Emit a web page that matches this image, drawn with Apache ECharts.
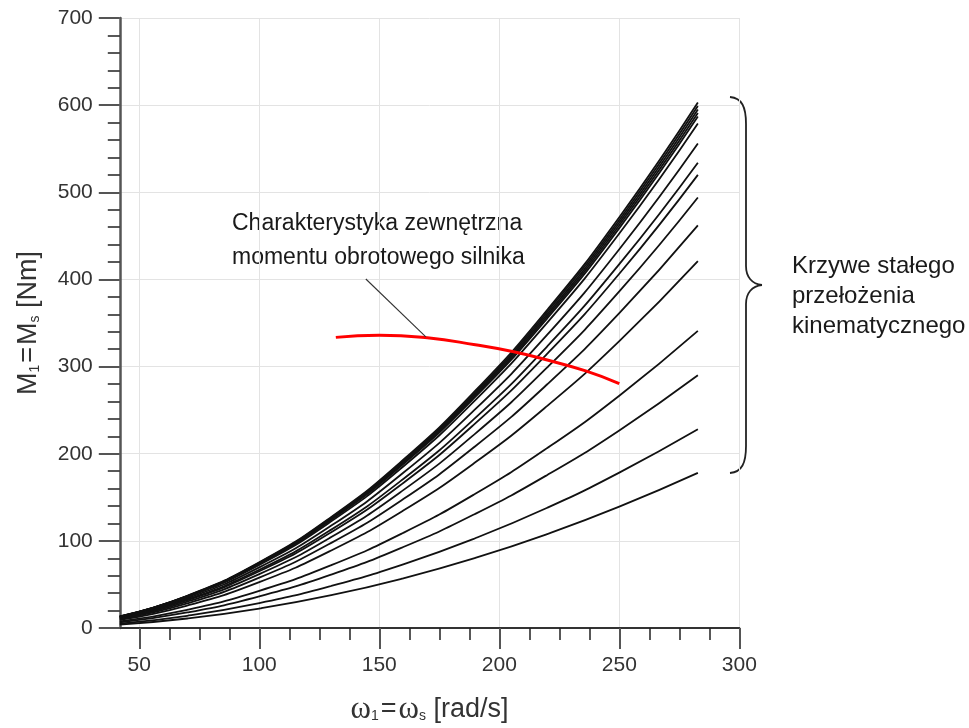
<!DOCTYPE html>
<html>
<head>
<meta charset="utf-8">
<script src="https://cdn.jsdelivr.net/npm/echarts@6/dist/echarts.min.js"></script>
<style>
  html, body { margin: 0; padding: 0; background: #fff; }
  #chart { width: 969px; height: 728px; }
</style>
</head>
<body>
<div id="chart"></div>
<script>
// omega points where the curves were read [rad/s]
var omega = [41.89, 70, 100, 130, 160, 190, 220, 250, 282.74];

// torque of each constant-ratio curve [Nm], top to bottom
var ratio1 = [13.2, 37.0, 75.4, 127.5, 193.1, 272.3, 365.1, 471.4, 603];
var ratio2 = [13.2, 36.7, 74.9, 126.6, 191.8, 270.5, 362.7, 468.3, 599];
var ratio3 = [13.1, 36.5, 74.4, 125.8, 190.5, 268.7, 360.2, 465.2, 595];
var ratio4 = [13.0, 36.2, 73.9, 124.9, 189.3, 266.9, 357.8, 462.1, 591];
var ratio5 = [12.9, 36.0, 73.4, 124.1, 188.0, 265.1, 355.4, 458.9, 587];
var ratio6 = [12.7, 35.5, 72.4, 122.4, 185.4, 261.5, 350.5, 452.7, 579];
var ratio7 = [12.2, 34.1, 69.6, 117.5, 178.1, 251.1, 336.6, 434.7, 556];
var ratio8 = [11.7, 32.7, 66.8, 112.9, 171.0, 241.1, 323.3, 417.5, 534];
var ratio9 = [11.4, 31.9, 65.1, 109.9, 166.5, 234.8, 314.8, 406.5, 520];
var ratio10 = [10.8, 30.3, 61.8, 104.4, 158.2, 223.1, 299.1, 386.2, 494];
var ratio11 = [10.1, 28.3, 57.8, 97.7, 147.9, 208.6, 279.7, 361.2, 462];
var ratio12 = [9.2, 25.8, 52.7, 89.0, 134.8, 190.1, 254.9, 329.1, 421];
var ratio13 = [7.5, 20.9, 42.7, 72.1, 109.2, 154.0, 206.5, 266.6, 341];
var ratio14 = [6.4, 17.8, 36.3, 61.3, 92.9, 131.0, 175.6, 226.7, 290];
var ratio15 = [5.0, 14.0, 28.5, 48.2, 73.0, 103.0, 138.0, 178.3, 228];
var ratio16 = [3.9, 10.9, 22.3, 37.6, 57.0, 80.4, 107.8, 139.2, 178];
var ratioCurves = [ratio1, ratio2, ratio3, ratio4, ratio5, ratio6, ratio7, ratio8,
  ratio9, ratio10, ratio11, ratio12, ratio13, ratio14, ratio15, ratio16];

// external engine torque characteristic (red)
var engineOmega = [131.9, 150, 170, 190, 206, 220, 236, 250];
var engineTorque = [333.5, 336, 333, 325, 317, 307.5, 295, 280.5];

// leader line from the annotation to the red curve
var leaderOmega = [144.4, 169.4];
var leaderTorque = [400.5, 334];

// tick values
var xMajorTicks = [50, 100, 150, 200, 250, 300];
var xMinorTicks = [62.5, 75, 87.5, 112.5, 125, 137.5, 162.5, 175, 187.5,
  212.5, 225, 237.5, 262.5, 275, 287.5];

var font = 'Liberation Sans, Arial, sans-serif';
var chart = echarts.init(document.getElementById('chart'));

function pairs(xs, ys) {
  return xs.map(function (x, i) { return [x, ys[i]]; });
}

var series = ratioCurves.map(function (c, i) {
  return {
    name: 'i' + (i + 1),
    type: 'line',
    data: pairs(omega, c),
    smooth: true,
    showSymbol: false,
    silent: true,
    lineStyle: { color: '#111', width: 1.8 },
    z: 3
  };
});

series.push({
  name: 'silnik',
  type: 'line',
  data: pairs(engineOmega, engineTorque),
  smooth: true,
  showSymbol: false,
  silent: true,
  lineStyle: { color: '#ff0000', width: 3 },
  z: 4
});

series.push({
  name: 'leader',
  type: 'line',
  data: pairs(leaderOmega, leaderTorque),
  showSymbol: false,
  silent: true,
  lineStyle: { color: '#333', width: 1.1 },
  z: 5
});

var subRich = {
  n: { fontSize: 27, fontFamily: font, color: '#333' },
  q: { fontSize: 27, fontFamily: font, color: '#333', padding: [0, 2, 0, 2] },
  w: { fontSize: 31, fontFamily: 'Liberation Serif, serif', color: '#333' },
  s: { fontSize: 14, fontFamily: font, color: '#333', padding: [13, 0, 0, 0] }
};

// curly brace pieces (pixel space, right of the plot)
var braceStyle = { fill: 'none', stroke: '#222', lineWidth: 1.8 };
var brace = [
  { type: 'bezierCurve', shape: { x1: 730, y1: 97, cpx1: 742, cpy1: 98, cpx2: 746, cpy2: 107, x2: 746, y2: 124 } },
  { type: 'line', shape: { x1: 746, y1: 124, x2: 746, y2: 266 } },
  { type: 'bezierCurve', shape: { x1: 746, y1: 266, cpx1: 746, cpy1: 277, cpx2: 752, cpy2: 284, x2: 762, y2: 285 } },
  { type: 'bezierCurve', shape: { x1: 762, y1: 285, cpx1: 752, cpy1: 286, cpx2: 746, cpy2: 293, x2: 746, y2: 304 } },
  { type: 'line', shape: { x1: 746, y1: 304, x2: 746, y2: 446 } },
  { type: 'bezierCurve', shape: { x1: 746, y1: 446, cpx1: 746, cpy1: 463, cpx2: 742, cpy2: 472, x2: 730, y2: 473 } }
].map(function (g) { g.style = braceStyle; return g; });

chart.setOption({
  animation: false,
  backgroundColor: '#fff',
  grid: { left: 119.8, right: 229.7, top: 18, bottom: 100, containLabel: false, outerBoundsMode: 'none' },
  xAxis: [{
    type: 'value',
    min: 41.89,
    max: 300,
    minInterval: 50,
    maxInterval: 50,
    axisLine: { show: true, onZero: false, lineStyle: { color: '#333', width: 2 } },
    axisTick: { show: true, length: 21, customValues: xMajorTicks, lineStyle: { color: '#555', width: 2 } },
    axisLabel: { customValues: xMajorTicks, margin: 27, fontSize: 21, fontFamily: font, color: '#333' },
    splitLine: { show: true, lineStyle: { color: '#e3e3e3', width: 1 } },
    name: '{w|ω}{s|1}{q|=}{w|ω}{s|s}{n| [rad/s]}',
    nameLocation: 'middle',
    nameGap: 66,
    nameTextStyle: { rich: subRich }
  }, {
    type: 'value',
    position: 'bottom',
    min: 41.89,
    max: 300,
    minInterval: 50,
    maxInterval: 50,
    axisLine: { show: false },
    axisTick: { show: true, length: 12, customValues: xMinorTicks, lineStyle: { color: '#222', width: 1.5 } },
    axisLabel: { show: false },
    splitLine: { show: false }
  }],
  yAxis: {
    type: 'value',
    min: 0,
    max: 700,
    interval: 100,
    axisLine: { show: true, lineStyle: { color: '#555', width: 2.5 } },
    axisTick: { show: true, length: 21, lineStyle: { color: '#555', width: 2 } },
    minorTick: { show: true, splitNumber: 5, length: 12, lineStyle: { color: '#222', width: 1.5 } },
    axisLabel: { margin: 27, fontSize: 21, fontFamily: font, color: '#333' },
    splitLine: { show: true, lineStyle: { color: '#e3e3e3', width: 1 } },
    name: '{n|M}{s|1}{q|=}{n|M}{s|s}{n| [Nm]}',
    nameLocation: 'middle',
    nameGap: 78,
    nameRotate: 90,
    nameTextStyle: { rich: subRich }
  },
  series: series,
  graphic: [
    {
      type: 'text', left: 232, top: 207,
      style: {
        text: 'Charakterystyka zewnętrzna\nmomentu obrotowego silnika',
        font: '23px ' + font, fill: '#1a1a1a', lineHeight: 34
      }
    },
    {
      type: 'text', left: 792, top: 251,
      style: {
        text: 'Krzywe stałego\nprzełożenia\nkinematycznego',
        font: '24px ' + font, fill: '#1a1a1a', lineHeight: 30
      }
    }
  ].concat(brace)
});
</script>
</body>
</html>
